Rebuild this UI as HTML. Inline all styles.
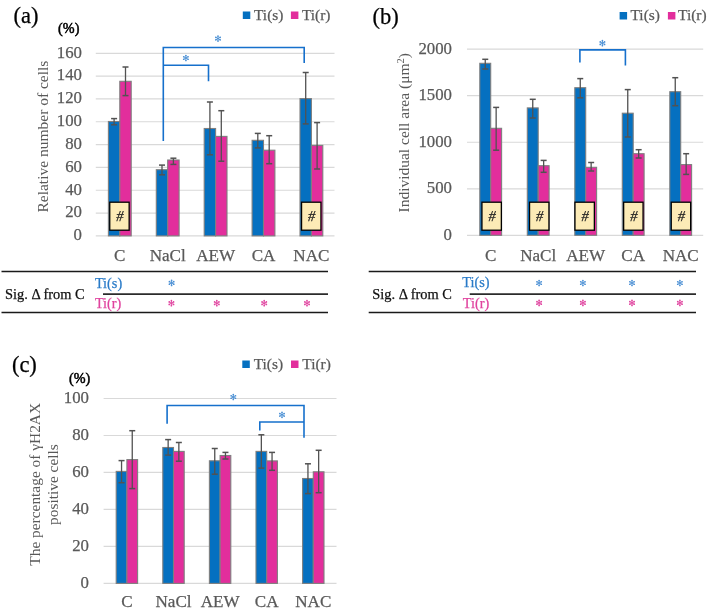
<!DOCTYPE html><html><head><meta charset="utf-8"><style>html,body{margin:0;padding:0;background:#fff;width:708px;height:610px;overflow:hidden}svg{display:block;filter:blur(0.4px)}text{font-family:"Liberation Serif",serif}</style></head><body>
<svg width="708" height="610" viewBox="0 0 708 610">
<text x="13.6" y="23.2" font-size="22.5" fill="#000" stroke="#000" stroke-width="0.25" text-anchor="start" >(a)</text>
<text x="58.1" y="32.7" font-size="14.2" fill="#000" stroke="#000" stroke-width="0.5">(%)</text>
<rect x="242.8" y="11.5" width="7.5" height="7.5" fill="#0570c0"/>
<text x="254" y="19.6" font-size="15.4" fill="#595959" stroke="#595959" stroke-width="0.25" text-anchor="start" >Ti(s)</text>
<rect x="290.9" y="11.5" width="7.5" height="7.5" fill="#e22e9c"/>
<text x="301.9" y="19.6" font-size="15.4" fill="#595959" stroke="#595959" stroke-width="0.25" text-anchor="start" >Ti(r)</text>
<line x1="95.8" y1="235.9" x2="334.5" y2="235.9" stroke="#d9d9d9" stroke-width="1.2"/>
<text x="82" y="240.2" font-size="16.8" fill="#595959" stroke="#595959" stroke-width="0.25" text-anchor="end" >0</text>
<line x1="95.8" y1="213.07" x2="334.5" y2="213.07" stroke="#d9d9d9" stroke-width="1.2"/>
<text x="82" y="217.38" font-size="16.8" fill="#595959" stroke="#595959" stroke-width="0.25" text-anchor="end" >20</text>
<line x1="95.8" y1="190.25" x2="334.5" y2="190.25" stroke="#d9d9d9" stroke-width="1.2"/>
<text x="82" y="194.55" font-size="16.8" fill="#595959" stroke="#595959" stroke-width="0.25" text-anchor="end" >40</text>
<line x1="95.8" y1="167.43" x2="334.5" y2="167.43" stroke="#d9d9d9" stroke-width="1.2"/>
<text x="82" y="171.73" font-size="16.8" fill="#595959" stroke="#595959" stroke-width="0.25" text-anchor="end" >60</text>
<line x1="95.8" y1="144.6" x2="334.5" y2="144.6" stroke="#d9d9d9" stroke-width="1.2"/>
<text x="82" y="148.9" font-size="16.8" fill="#595959" stroke="#595959" stroke-width="0.25" text-anchor="end" >80</text>
<line x1="95.8" y1="121.77" x2="334.5" y2="121.77" stroke="#d9d9d9" stroke-width="1.2"/>
<text x="82" y="126.07" font-size="16.8" fill="#595959" stroke="#595959" stroke-width="0.25" text-anchor="end" >100</text>
<line x1="95.8" y1="98.95" x2="334.5" y2="98.95" stroke="#d9d9d9" stroke-width="1.2"/>
<text x="82" y="103.25" font-size="16.8" fill="#595959" stroke="#595959" stroke-width="0.25" text-anchor="end" >120</text>
<line x1="95.8" y1="76.12" x2="334.5" y2="76.12" stroke="#d9d9d9" stroke-width="1.2"/>
<text x="82" y="80.42" font-size="16.8" fill="#595959" stroke="#595959" stroke-width="0.25" text-anchor="end" >140</text>
<line x1="95.8" y1="53.3" x2="334.5" y2="53.3" stroke="#d9d9d9" stroke-width="1.2"/>
<text x="82" y="57.6" font-size="16.8" fill="#595959" stroke="#595959" stroke-width="0.25" text-anchor="end" >160</text>
<rect x="108.40" y="121.50" width="11.40" height="114.40" fill="#0570c0" stroke="#7f7f7f" stroke-width="1.1"/>
<rect x="119.80" y="81.30" width="11.40" height="154.60" fill="#e22e9c" stroke="#7f7f7f" stroke-width="1.1"/>
<rect x="156.30" y="169.70" width="11.40" height="66.20" fill="#0570c0" stroke="#7f7f7f" stroke-width="1.1"/>
<rect x="167.70" y="160.00" width="11.40" height="75.90" fill="#e22e9c" stroke="#7f7f7f" stroke-width="1.1"/>
<rect x="204.20" y="128.50" width="11.40" height="107.40" fill="#0570c0" stroke="#7f7f7f" stroke-width="1.1"/>
<rect x="215.60" y="136.40" width="11.40" height="99.50" fill="#e22e9c" stroke="#7f7f7f" stroke-width="1.1"/>
<rect x="252.10" y="140.30" width="11.40" height="95.60" fill="#0570c0" stroke="#7f7f7f" stroke-width="1.1"/>
<rect x="263.50" y="150.20" width="11.40" height="85.70" fill="#e22e9c" stroke="#7f7f7f" stroke-width="1.1"/>
<rect x="300.00" y="98.60" width="11.40" height="137.30" fill="#0570c0" stroke="#7f7f7f" stroke-width="1.1"/>
<rect x="311.40" y="145.40" width="11.40" height="90.50" fill="#e22e9c" stroke="#7f7f7f" stroke-width="1.1"/>
<line x1="114.1" y1="118.6" x2="114.1" y2="124.8" stroke="#525252" stroke-width="1.3"/>
<line x1="111.1" y1="118.6" x2="117.1" y2="118.6" stroke="#525252" stroke-width="1.5"/>
<line x1="111.1" y1="124.8" x2="117.1" y2="124.8" stroke="#525252" stroke-width="1.5"/>
<line x1="125.5" y1="67" x2="125.5" y2="95.6" stroke="#525252" stroke-width="1.3"/>
<line x1="122.5" y1="67" x2="128.5" y2="67" stroke="#525252" stroke-width="1.5"/>
<line x1="122.5" y1="95.6" x2="128.5" y2="95.6" stroke="#525252" stroke-width="1.5"/>
<line x1="162.0" y1="165.1" x2="162.0" y2="174.8" stroke="#525252" stroke-width="1.3"/>
<line x1="159.0" y1="165.1" x2="165.0" y2="165.1" stroke="#525252" stroke-width="1.5"/>
<line x1="159.0" y1="174.8" x2="165.0" y2="174.8" stroke="#525252" stroke-width="1.5"/>
<line x1="173.39999999999998" y1="158.2" x2="173.39999999999998" y2="164.4" stroke="#525252" stroke-width="1.3"/>
<line x1="170.39999999999998" y1="158.2" x2="176.39999999999998" y2="158.2" stroke="#525252" stroke-width="1.5"/>
<line x1="170.39999999999998" y1="164.4" x2="176.39999999999998" y2="164.4" stroke="#525252" stroke-width="1.5"/>
<line x1="209.9" y1="102" x2="209.9" y2="154.8" stroke="#525252" stroke-width="1.3"/>
<line x1="206.9" y1="102" x2="212.9" y2="102" stroke="#525252" stroke-width="1.5"/>
<line x1="206.9" y1="154.8" x2="212.9" y2="154.8" stroke="#525252" stroke-width="1.5"/>
<line x1="221.29999999999998" y1="110.7" x2="221.29999999999998" y2="161.2" stroke="#525252" stroke-width="1.3"/>
<line x1="218.29999999999998" y1="110.7" x2="224.29999999999998" y2="110.7" stroke="#525252" stroke-width="1.5"/>
<line x1="218.29999999999998" y1="161.2" x2="224.29999999999998" y2="161.2" stroke="#525252" stroke-width="1.5"/>
<line x1="257.8" y1="133.4" x2="257.8" y2="147.9" stroke="#525252" stroke-width="1.3"/>
<line x1="254.8" y1="133.4" x2="260.8" y2="133.4" stroke="#525252" stroke-width="1.5"/>
<line x1="254.8" y1="147.9" x2="260.8" y2="147.9" stroke="#525252" stroke-width="1.5"/>
<line x1="269.2" y1="135.7" x2="269.2" y2="163.7" stroke="#525252" stroke-width="1.3"/>
<line x1="266.2" y1="135.7" x2="272.2" y2="135.7" stroke="#525252" stroke-width="1.5"/>
<line x1="266.2" y1="163.7" x2="272.2" y2="163.7" stroke="#525252" stroke-width="1.5"/>
<line x1="305.7" y1="72.5" x2="305.7" y2="123.9" stroke="#525252" stroke-width="1.3"/>
<line x1="302.7" y1="72.5" x2="308.7" y2="72.5" stroke="#525252" stroke-width="1.5"/>
<line x1="302.7" y1="123.9" x2="308.7" y2="123.9" stroke="#525252" stroke-width="1.5"/>
<line x1="317.09999999999997" y1="122.6" x2="317.09999999999997" y2="169" stroke="#525252" stroke-width="1.3"/>
<line x1="314.09999999999997" y1="122.6" x2="320.09999999999997" y2="122.6" stroke="#525252" stroke-width="1.5"/>
<line x1="314.09999999999997" y1="169" x2="320.09999999999997" y2="169" stroke="#525252" stroke-width="1.5"/>
<rect x="109.75" y="202.20" width="19.4" height="28.00" fill="#fcebb6" stroke="#000" stroke-width="1.3"/>
<text x="119.9" y="221.2" font-size="14.5" fill="#222" stroke="#222" stroke-width="0.25" text-anchor="middle" font-style="italic">#</text>
<rect x="301.55" y="202.20" width="19.4" height="28.00" fill="#fcebb6" stroke="#000" stroke-width="1.3"/>
<text x="311.7" y="221.2" font-size="14.5" fill="#222" stroke="#222" stroke-width="0.25" text-anchor="middle" font-style="italic">#</text>
<text x="119.8" y="261.1" font-size="17.1" fill="#595959" stroke="#595959" stroke-width="0.25" text-anchor="middle" >C</text>
<text x="167.7" y="261.1" font-size="17.1" fill="#595959" stroke="#595959" stroke-width="0.25" text-anchor="middle" >NaCl</text>
<text x="215.6" y="261.1" font-size="17.1" fill="#595959" stroke="#595959" stroke-width="0.25" text-anchor="middle" >AEW</text>
<text x="263.5" y="261.1" font-size="17.1" fill="#595959" stroke="#595959" stroke-width="0.25" text-anchor="middle" >CA</text>
<text x="311.4" y="261.1" font-size="17.1" fill="#595959" stroke="#595959" stroke-width="0.25" text-anchor="middle" >NAC</text>
<text transform="translate(48.2,136.6) rotate(-90)" font-size="15.5" fill="#595959" text-anchor="middle">Relative number of cells</text>
<polyline points="163.3,141 163.3,47.5 304.2,47.5 304.2,63.1" fill="none" stroke="#1670cc" stroke-width="1.6"/>
<polyline points="163.3,65.3 208.5,65.3 208.5,81.3" fill="none" stroke="#1670cc" stroke-width="1.6"/>
<line x1="218.0" y1="36.1" x2="218.0" y2="41.1" stroke="#4a8fd4" stroke-width="0.9"/>
<line x1="215.83" y1="37.35" x2="220.17" y2="39.85" stroke="#4a8fd4" stroke-width="0.9"/>
<line x1="220.17" y1="37.35" x2="215.83" y2="39.85" stroke="#4a8fd4" stroke-width="0.9"/>
<circle cx="220.17" cy="39.85" r="0.85" fill="#4a8fd4"/>
<circle cx="218.00" cy="41.10" r="0.85" fill="#4a8fd4"/>
<circle cx="215.83" cy="39.85" r="0.85" fill="#4a8fd4"/>
<circle cx="215.83" cy="37.35" r="0.85" fill="#4a8fd4"/>
<circle cx="218.00" cy="36.10" r="0.85" fill="#4a8fd4"/>
<circle cx="220.17" cy="37.35" r="0.85" fill="#4a8fd4"/>
<line x1="185.9" y1="55.5" x2="185.9" y2="60.5" stroke="#4a8fd4" stroke-width="0.9"/>
<line x1="183.73" y1="56.75" x2="188.07" y2="59.25" stroke="#4a8fd4" stroke-width="0.9"/>
<line x1="188.07" y1="56.75" x2="183.73" y2="59.25" stroke="#4a8fd4" stroke-width="0.9"/>
<circle cx="188.07" cy="59.25" r="0.85" fill="#4a8fd4"/>
<circle cx="185.90" cy="60.50" r="0.85" fill="#4a8fd4"/>
<circle cx="183.73" cy="59.25" r="0.85" fill="#4a8fd4"/>
<circle cx="183.73" cy="56.75" r="0.85" fill="#4a8fd4"/>
<circle cx="185.90" cy="55.50" r="0.85" fill="#4a8fd4"/>
<circle cx="188.07" cy="56.75" r="0.85" fill="#4a8fd4"/>
<line x1="1.5" y1="271.6" x2="328" y2="271.6" stroke="#1a1a1a" stroke-width="1.5"/>
<line x1="103" y1="294.1" x2="328" y2="294.1" stroke="#2b2b2b" stroke-width="1.9"/>
<line x1="1.5" y1="312.6" x2="328" y2="312.6" stroke="#1a1a1a" stroke-width="1.5"/>
<text x="5" y="299" font-size="14.4" fill="#111" stroke="#111" stroke-width="0.25" text-anchor="start" >Sig. Δ from C</text>
<text x="94.9" y="287.6" font-size="14.3" fill="#2a7bc8" stroke="#2a7bc8" stroke-width="0.25" text-anchor="start" >Ti(s)</text>
<text x="94.9" y="307.5" font-size="14.3" fill="#e0449f" stroke="#e0449f" stroke-width="0.25" text-anchor="start" >Ti(r)</text>
<line x1="171.6" y1="280.4" x2="171.6" y2="285.4" stroke="#4a8fd4" stroke-width="0.9"/>
<line x1="169.43" y1="281.65" x2="173.77" y2="284.15" stroke="#4a8fd4" stroke-width="0.9"/>
<line x1="173.77" y1="281.65" x2="169.43" y2="284.15" stroke="#4a8fd4" stroke-width="0.9"/>
<circle cx="173.77" cy="284.15" r="0.85" fill="#4a8fd4"/>
<circle cx="171.60" cy="285.40" r="0.85" fill="#4a8fd4"/>
<circle cx="169.43" cy="284.15" r="0.85" fill="#4a8fd4"/>
<circle cx="169.43" cy="281.65" r="0.85" fill="#4a8fd4"/>
<circle cx="171.60" cy="280.40" r="0.85" fill="#4a8fd4"/>
<circle cx="173.77" cy="281.65" r="0.85" fill="#4a8fd4"/>
<line x1="171.4" y1="300.7" x2="171.4" y2="305.7" stroke="#e0449f" stroke-width="0.9"/>
<line x1="169.23" y1="301.95" x2="173.57" y2="304.45" stroke="#e0449f" stroke-width="0.9"/>
<line x1="173.57" y1="301.95" x2="169.23" y2="304.45" stroke="#e0449f" stroke-width="0.9"/>
<circle cx="173.57" cy="304.45" r="0.85" fill="#e0449f"/>
<circle cx="171.40" cy="305.70" r="0.85" fill="#e0449f"/>
<circle cx="169.23" cy="304.45" r="0.85" fill="#e0449f"/>
<circle cx="169.23" cy="301.95" r="0.85" fill="#e0449f"/>
<circle cx="171.40" cy="300.70" r="0.85" fill="#e0449f"/>
<circle cx="173.57" cy="301.95" r="0.85" fill="#e0449f"/>
<line x1="216.8" y1="300.7" x2="216.8" y2="305.7" stroke="#e0449f" stroke-width="0.9"/>
<line x1="214.63" y1="301.95" x2="218.97" y2="304.45" stroke="#e0449f" stroke-width="0.9"/>
<line x1="218.97" y1="301.95" x2="214.63" y2="304.45" stroke="#e0449f" stroke-width="0.9"/>
<circle cx="218.97" cy="304.45" r="0.85" fill="#e0449f"/>
<circle cx="216.80" cy="305.70" r="0.85" fill="#e0449f"/>
<circle cx="214.63" cy="304.45" r="0.85" fill="#e0449f"/>
<circle cx="214.63" cy="301.95" r="0.85" fill="#e0449f"/>
<circle cx="216.80" cy="300.70" r="0.85" fill="#e0449f"/>
<circle cx="218.97" cy="301.95" r="0.85" fill="#e0449f"/>
<line x1="264.2" y1="300.7" x2="264.2" y2="305.7" stroke="#e0449f" stroke-width="0.9"/>
<line x1="262.03" y1="301.95" x2="266.37" y2="304.45" stroke="#e0449f" stroke-width="0.9"/>
<line x1="266.37" y1="301.95" x2="262.03" y2="304.45" stroke="#e0449f" stroke-width="0.9"/>
<circle cx="266.37" cy="304.45" r="0.85" fill="#e0449f"/>
<circle cx="264.20" cy="305.70" r="0.85" fill="#e0449f"/>
<circle cx="262.03" cy="304.45" r="0.85" fill="#e0449f"/>
<circle cx="262.03" cy="301.95" r="0.85" fill="#e0449f"/>
<circle cx="264.20" cy="300.70" r="0.85" fill="#e0449f"/>
<circle cx="266.37" cy="301.95" r="0.85" fill="#e0449f"/>
<line x1="307.0" y1="300.7" x2="307.0" y2="305.7" stroke="#e0449f" stroke-width="0.9"/>
<line x1="304.83" y1="301.95" x2="309.17" y2="304.45" stroke="#e0449f" stroke-width="0.9"/>
<line x1="309.17" y1="301.95" x2="304.83" y2="304.45" stroke="#e0449f" stroke-width="0.9"/>
<circle cx="309.17" cy="304.45" r="0.85" fill="#e0449f"/>
<circle cx="307.00" cy="305.70" r="0.85" fill="#e0449f"/>
<circle cx="304.83" cy="304.45" r="0.85" fill="#e0449f"/>
<circle cx="304.83" cy="301.95" r="0.85" fill="#e0449f"/>
<circle cx="307.00" cy="300.70" r="0.85" fill="#e0449f"/>
<circle cx="309.17" cy="301.95" r="0.85" fill="#e0449f"/>
<text x="372.6" y="24" font-size="22.5" fill="#000" stroke="#000" stroke-width="0.25" text-anchor="start" >(b)</text>
<rect x="619.6" y="12" width="7.5" height="7.5" fill="#0570c0"/>
<text x="630.5" y="19.8" font-size="15.4" fill="#595959" stroke="#595959" stroke-width="0.25" text-anchor="start" >Ti(s)</text>
<rect x="667.9" y="12" width="7.5" height="7.5" fill="#e22e9c"/>
<text x="678.1" y="19.8" font-size="15.4" fill="#595959" stroke="#595959" stroke-width="0.25" text-anchor="start" >Ti(r)</text>
<line x1="467" y1="235.3" x2="703.2" y2="235.3" stroke="#d9d9d9" stroke-width="1.2"/>
<text x="452" y="239.6" font-size="16.8" fill="#595959" stroke="#595959" stroke-width="0.25" text-anchor="end" >0</text>
<line x1="467" y1="188.78" x2="703.2" y2="188.78" stroke="#d9d9d9" stroke-width="1.2"/>
<text x="452" y="193.08" font-size="16.8" fill="#595959" stroke="#595959" stroke-width="0.25" text-anchor="end" >500</text>
<line x1="467" y1="142.25" x2="703.2" y2="142.25" stroke="#d9d9d9" stroke-width="1.2"/>
<text x="452" y="146.55" font-size="16.8" fill="#595959" stroke="#595959" stroke-width="0.25" text-anchor="end" >1000</text>
<line x1="467" y1="95.72" x2="703.2" y2="95.72" stroke="#d9d9d9" stroke-width="1.2"/>
<text x="452" y="100.02" font-size="16.8" fill="#595959" stroke="#595959" stroke-width="0.25" text-anchor="end" >1500</text>
<line x1="467" y1="49.2" x2="703.2" y2="49.2" stroke="#d9d9d9" stroke-width="1.2"/>
<text x="452" y="53.5" font-size="16.8" fill="#595959" stroke="#595959" stroke-width="0.25" text-anchor="end" >2000</text>
<rect x="479.80" y="63.30" width="10.90" height="172.00" fill="#0570c0" stroke="#7f7f7f" stroke-width="1.1"/>
<rect x="490.70" y="128.30" width="10.90" height="107.00" fill="#e22e9c" stroke="#7f7f7f" stroke-width="1.1"/>
<rect x="527.30" y="107.90" width="10.90" height="127.40" fill="#0570c0" stroke="#7f7f7f" stroke-width="1.1"/>
<rect x="538.20" y="165.70" width="10.90" height="69.60" fill="#e22e9c" stroke="#7f7f7f" stroke-width="1.1"/>
<rect x="574.80" y="87.70" width="10.90" height="147.60" fill="#0570c0" stroke="#7f7f7f" stroke-width="1.1"/>
<rect x="585.70" y="167.30" width="10.90" height="68.00" fill="#e22e9c" stroke="#7f7f7f" stroke-width="1.1"/>
<rect x="622.30" y="113.20" width="10.90" height="122.10" fill="#0570c0" stroke="#7f7f7f" stroke-width="1.1"/>
<rect x="633.20" y="153.70" width="10.90" height="81.60" fill="#e22e9c" stroke="#7f7f7f" stroke-width="1.1"/>
<rect x="669.80" y="91.70" width="10.90" height="143.60" fill="#0570c0" stroke="#7f7f7f" stroke-width="1.1"/>
<rect x="680.70" y="164.60" width="10.90" height="70.70" fill="#e22e9c" stroke="#7f7f7f" stroke-width="1.1"/>
<line x1="485.25" y1="59.3" x2="485.25" y2="69" stroke="#525252" stroke-width="1.3"/>
<line x1="482.25" y1="59.3" x2="488.25" y2="59.3" stroke="#525252" stroke-width="1.5"/>
<line x1="482.25" y1="69" x2="488.25" y2="69" stroke="#525252" stroke-width="1.5"/>
<line x1="496.15" y1="107.4" x2="496.15" y2="150.2" stroke="#525252" stroke-width="1.3"/>
<line x1="493.15" y1="107.4" x2="499.15" y2="107.4" stroke="#525252" stroke-width="1.5"/>
<line x1="493.15" y1="150.2" x2="499.15" y2="150.2" stroke="#525252" stroke-width="1.5"/>
<line x1="532.75" y1="99.3" x2="532.75" y2="118" stroke="#525252" stroke-width="1.3"/>
<line x1="529.75" y1="99.3" x2="535.75" y2="99.3" stroke="#525252" stroke-width="1.5"/>
<line x1="529.75" y1="118" x2="535.75" y2="118" stroke="#525252" stroke-width="1.5"/>
<line x1="543.6500000000001" y1="160.4" x2="543.6500000000001" y2="172.3" stroke="#525252" stroke-width="1.3"/>
<line x1="540.6500000000001" y1="160.4" x2="546.6500000000001" y2="160.4" stroke="#525252" stroke-width="1.5"/>
<line x1="540.6500000000001" y1="172.3" x2="546.6500000000001" y2="172.3" stroke="#525252" stroke-width="1.5"/>
<line x1="580.25" y1="78.6" x2="580.25" y2="97.8" stroke="#525252" stroke-width="1.3"/>
<line x1="577.25" y1="78.6" x2="583.25" y2="78.6" stroke="#525252" stroke-width="1.5"/>
<line x1="577.25" y1="97.8" x2="583.25" y2="97.8" stroke="#525252" stroke-width="1.5"/>
<line x1="591.1500000000001" y1="162.5" x2="591.1500000000001" y2="171" stroke="#525252" stroke-width="1.3"/>
<line x1="588.1500000000001" y1="162.5" x2="594.1500000000001" y2="162.5" stroke="#525252" stroke-width="1.5"/>
<line x1="588.1500000000001" y1="171" x2="594.1500000000001" y2="171" stroke="#525252" stroke-width="1.5"/>
<line x1="627.75" y1="89.6" x2="627.75" y2="137" stroke="#525252" stroke-width="1.3"/>
<line x1="624.75" y1="89.6" x2="630.75" y2="89.6" stroke="#525252" stroke-width="1.5"/>
<line x1="624.75" y1="137" x2="630.75" y2="137" stroke="#525252" stroke-width="1.5"/>
<line x1="638.6500000000001" y1="149.7" x2="638.6500000000001" y2="158" stroke="#525252" stroke-width="1.3"/>
<line x1="635.6500000000001" y1="149.7" x2="641.6500000000001" y2="149.7" stroke="#525252" stroke-width="1.5"/>
<line x1="635.6500000000001" y1="158" x2="641.6500000000001" y2="158" stroke="#525252" stroke-width="1.5"/>
<line x1="675.25" y1="77.7" x2="675.25" y2="105.7" stroke="#525252" stroke-width="1.3"/>
<line x1="672.25" y1="77.7" x2="678.25" y2="77.7" stroke="#525252" stroke-width="1.5"/>
<line x1="672.25" y1="105.7" x2="678.25" y2="105.7" stroke="#525252" stroke-width="1.5"/>
<line x1="686.1500000000001" y1="153.7" x2="686.1500000000001" y2="174.4" stroke="#525252" stroke-width="1.3"/>
<line x1="683.1500000000001" y1="153.7" x2="689.1500000000001" y2="153.7" stroke="#525252" stroke-width="1.5"/>
<line x1="683.1500000000001" y1="174.4" x2="689.1500000000001" y2="174.4" stroke="#525252" stroke-width="1.5"/>
<rect x="481.95" y="202.20" width="19.4" height="28.00" fill="#fcebb6" stroke="#000" stroke-width="1.3"/>
<text x="492.1" y="221.2" font-size="14.5" fill="#222" stroke="#222" stroke-width="0.25" text-anchor="middle" font-style="italic">#</text>
<rect x="529.55" y="202.20" width="19.4" height="28.00" fill="#fcebb6" stroke="#000" stroke-width="1.3"/>
<text x="539.7" y="221.2" font-size="14.5" fill="#222" stroke="#222" stroke-width="0.25" text-anchor="middle" font-style="italic">#</text>
<rect x="574.95" y="202.20" width="19.4" height="28.00" fill="#fcebb6" stroke="#000" stroke-width="1.3"/>
<text x="585.1" y="221.2" font-size="14.5" fill="#222" stroke="#222" stroke-width="0.25" text-anchor="middle" font-style="italic">#</text>
<rect x="623.65" y="202.20" width="19.4" height="28.00" fill="#fcebb6" stroke="#000" stroke-width="1.3"/>
<text x="633.8" y="221.2" font-size="14.5" fill="#222" stroke="#222" stroke-width="0.25" text-anchor="middle" font-style="italic">#</text>
<rect x="671.25" y="202.20" width="19.4" height="28.00" fill="#fcebb6" stroke="#000" stroke-width="1.3"/>
<text x="681.4" y="221.2" font-size="14.5" fill="#222" stroke="#222" stroke-width="0.25" text-anchor="middle" font-style="italic">#</text>
<text x="490.7" y="260.5" font-size="17.1" fill="#595959" stroke="#595959" stroke-width="0.25" text-anchor="middle" >C</text>
<text x="538.2" y="260.5" font-size="17.1" fill="#595959" stroke="#595959" stroke-width="0.25" text-anchor="middle" >NaCl</text>
<text x="585.7" y="260.5" font-size="17.1" fill="#595959" stroke="#595959" stroke-width="0.25" text-anchor="middle" >AEW</text>
<text x="633.2" y="260.5" font-size="17.1" fill="#595959" stroke="#595959" stroke-width="0.25" text-anchor="middle" >CA</text>
<text x="680.7" y="260.5" font-size="17.1" fill="#595959" stroke="#595959" stroke-width="0.25" text-anchor="middle" >NAC</text>
<text transform="translate(409,132.8) rotate(-90)" font-size="15.5" fill="#595959" text-anchor="middle">Individual cell area (μm<tspan font-size="10.5" dy="-4.6">2</tspan><tspan dy="4.6">)</tspan></text>
<polyline points="579.9,62.4 579.9,49.9 625.4,49.9 625.4,65.5" fill="none" stroke="#1670cc" stroke-width="1.6"/>
<line x1="602.4" y1="40.7" x2="602.4" y2="45.7" stroke="#4a8fd4" stroke-width="0.9"/>
<line x1="600.23" y1="41.95" x2="604.57" y2="44.45" stroke="#4a8fd4" stroke-width="0.9"/>
<line x1="604.57" y1="41.95" x2="600.23" y2="44.45" stroke="#4a8fd4" stroke-width="0.9"/>
<circle cx="604.57" cy="44.45" r="0.85" fill="#4a8fd4"/>
<circle cx="602.40" cy="45.70" r="0.85" fill="#4a8fd4"/>
<circle cx="600.23" cy="44.45" r="0.85" fill="#4a8fd4"/>
<circle cx="600.23" cy="41.95" r="0.85" fill="#4a8fd4"/>
<circle cx="602.40" cy="40.70" r="0.85" fill="#4a8fd4"/>
<circle cx="604.57" cy="41.95" r="0.85" fill="#4a8fd4"/>
<line x1="368.7" y1="271.4" x2="696" y2="271.4" stroke="#1a1a1a" stroke-width="1.5"/>
<line x1="469.7" y1="294.1" x2="696" y2="294.1" stroke="#2b2b2b" stroke-width="1.9"/>
<line x1="368.7" y1="312.6" x2="696" y2="312.6" stroke="#1a1a1a" stroke-width="1.5"/>
<text x="372.3" y="299.4" font-size="14.4" fill="#111" stroke="#111" stroke-width="0.25" text-anchor="start" >Sig. Δ from C</text>
<text x="462.3" y="287.4" font-size="14.3" fill="#2a7bc8" stroke="#2a7bc8" stroke-width="0.25" text-anchor="start" >Ti(s)</text>
<text x="462.8" y="307.6" font-size="14.3" fill="#e0449f" stroke="#e0449f" stroke-width="0.25" text-anchor="start" >Ti(r)</text>
<line x1="539.1" y1="280.5" x2="539.1" y2="285.5" stroke="#4a8fd4" stroke-width="0.9"/>
<line x1="536.93" y1="281.75" x2="541.27" y2="284.25" stroke="#4a8fd4" stroke-width="0.9"/>
<line x1="541.27" y1="281.75" x2="536.93" y2="284.25" stroke="#4a8fd4" stroke-width="0.9"/>
<circle cx="541.27" cy="284.25" r="0.85" fill="#4a8fd4"/>
<circle cx="539.10" cy="285.50" r="0.85" fill="#4a8fd4"/>
<circle cx="536.93" cy="284.25" r="0.85" fill="#4a8fd4"/>
<circle cx="536.93" cy="281.75" r="0.85" fill="#4a8fd4"/>
<circle cx="539.10" cy="280.50" r="0.85" fill="#4a8fd4"/>
<circle cx="541.27" cy="281.75" r="0.85" fill="#4a8fd4"/>
<line x1="539.1" y1="300.4" x2="539.1" y2="305.4" stroke="#e0449f" stroke-width="0.9"/>
<line x1="536.93" y1="301.65" x2="541.27" y2="304.15" stroke="#e0449f" stroke-width="0.9"/>
<line x1="541.27" y1="301.65" x2="536.93" y2="304.15" stroke="#e0449f" stroke-width="0.9"/>
<circle cx="541.27" cy="304.15" r="0.85" fill="#e0449f"/>
<circle cx="539.10" cy="305.40" r="0.85" fill="#e0449f"/>
<circle cx="536.93" cy="304.15" r="0.85" fill="#e0449f"/>
<circle cx="536.93" cy="301.65" r="0.85" fill="#e0449f"/>
<circle cx="539.10" cy="300.40" r="0.85" fill="#e0449f"/>
<circle cx="541.27" cy="301.65" r="0.85" fill="#e0449f"/>
<line x1="582.9" y1="280.5" x2="582.9" y2="285.5" stroke="#4a8fd4" stroke-width="0.9"/>
<line x1="580.73" y1="281.75" x2="585.07" y2="284.25" stroke="#4a8fd4" stroke-width="0.9"/>
<line x1="585.07" y1="281.75" x2="580.73" y2="284.25" stroke="#4a8fd4" stroke-width="0.9"/>
<circle cx="585.07" cy="284.25" r="0.85" fill="#4a8fd4"/>
<circle cx="582.90" cy="285.50" r="0.85" fill="#4a8fd4"/>
<circle cx="580.73" cy="284.25" r="0.85" fill="#4a8fd4"/>
<circle cx="580.73" cy="281.75" r="0.85" fill="#4a8fd4"/>
<circle cx="582.90" cy="280.50" r="0.85" fill="#4a8fd4"/>
<circle cx="585.07" cy="281.75" r="0.85" fill="#4a8fd4"/>
<line x1="582.9" y1="300.4" x2="582.9" y2="305.4" stroke="#e0449f" stroke-width="0.9"/>
<line x1="580.73" y1="301.65" x2="585.07" y2="304.15" stroke="#e0449f" stroke-width="0.9"/>
<line x1="585.07" y1="301.65" x2="580.73" y2="304.15" stroke="#e0449f" stroke-width="0.9"/>
<circle cx="585.07" cy="304.15" r="0.85" fill="#e0449f"/>
<circle cx="582.90" cy="305.40" r="0.85" fill="#e0449f"/>
<circle cx="580.73" cy="304.15" r="0.85" fill="#e0449f"/>
<circle cx="580.73" cy="301.65" r="0.85" fill="#e0449f"/>
<circle cx="582.90" cy="300.40" r="0.85" fill="#e0449f"/>
<circle cx="585.07" cy="301.65" r="0.85" fill="#e0449f"/>
<line x1="632.0" y1="280.5" x2="632.0" y2="285.5" stroke="#4a8fd4" stroke-width="0.9"/>
<line x1="629.83" y1="281.75" x2="634.17" y2="284.25" stroke="#4a8fd4" stroke-width="0.9"/>
<line x1="634.17" y1="281.75" x2="629.83" y2="284.25" stroke="#4a8fd4" stroke-width="0.9"/>
<circle cx="634.17" cy="284.25" r="0.85" fill="#4a8fd4"/>
<circle cx="632.00" cy="285.50" r="0.85" fill="#4a8fd4"/>
<circle cx="629.83" cy="284.25" r="0.85" fill="#4a8fd4"/>
<circle cx="629.83" cy="281.75" r="0.85" fill="#4a8fd4"/>
<circle cx="632.00" cy="280.50" r="0.85" fill="#4a8fd4"/>
<circle cx="634.17" cy="281.75" r="0.85" fill="#4a8fd4"/>
<line x1="632.0" y1="300.4" x2="632.0" y2="305.4" stroke="#e0449f" stroke-width="0.9"/>
<line x1="629.83" y1="301.65" x2="634.17" y2="304.15" stroke="#e0449f" stroke-width="0.9"/>
<line x1="634.17" y1="301.65" x2="629.83" y2="304.15" stroke="#e0449f" stroke-width="0.9"/>
<circle cx="634.17" cy="304.15" r="0.85" fill="#e0449f"/>
<circle cx="632.00" cy="305.40" r="0.85" fill="#e0449f"/>
<circle cx="629.83" cy="304.15" r="0.85" fill="#e0449f"/>
<circle cx="629.83" cy="301.65" r="0.85" fill="#e0449f"/>
<circle cx="632.00" cy="300.40" r="0.85" fill="#e0449f"/>
<circle cx="634.17" cy="301.65" r="0.85" fill="#e0449f"/>
<line x1="679.9" y1="280.5" x2="679.9" y2="285.5" stroke="#4a8fd4" stroke-width="0.9"/>
<line x1="677.73" y1="281.75" x2="682.07" y2="284.25" stroke="#4a8fd4" stroke-width="0.9"/>
<line x1="682.07" y1="281.75" x2="677.73" y2="284.25" stroke="#4a8fd4" stroke-width="0.9"/>
<circle cx="682.07" cy="284.25" r="0.85" fill="#4a8fd4"/>
<circle cx="679.90" cy="285.50" r="0.85" fill="#4a8fd4"/>
<circle cx="677.73" cy="284.25" r="0.85" fill="#4a8fd4"/>
<circle cx="677.73" cy="281.75" r="0.85" fill="#4a8fd4"/>
<circle cx="679.90" cy="280.50" r="0.85" fill="#4a8fd4"/>
<circle cx="682.07" cy="281.75" r="0.85" fill="#4a8fd4"/>
<line x1="679.9" y1="300.4" x2="679.9" y2="305.4" stroke="#e0449f" stroke-width="0.9"/>
<line x1="677.73" y1="301.65" x2="682.07" y2="304.15" stroke="#e0449f" stroke-width="0.9"/>
<line x1="682.07" y1="301.65" x2="677.73" y2="304.15" stroke="#e0449f" stroke-width="0.9"/>
<circle cx="682.07" cy="304.15" r="0.85" fill="#e0449f"/>
<circle cx="679.90" cy="305.40" r="0.85" fill="#e0449f"/>
<circle cx="677.73" cy="304.15" r="0.85" fill="#e0449f"/>
<circle cx="677.73" cy="301.65" r="0.85" fill="#e0449f"/>
<circle cx="679.90" cy="300.40" r="0.85" fill="#e0449f"/>
<circle cx="682.07" cy="301.65" r="0.85" fill="#e0449f"/>
<text x="11.9" y="372.4" font-size="22.5" fill="#000" stroke="#000" stroke-width="0.25" text-anchor="start" >(c)</text>
<text x="69" y="383.1" font-size="14.2" fill="#000" stroke="#000" stroke-width="0.5">(%)</text>
<rect x="242.3" y="360.5" width="7.5" height="7.5" fill="#0570c0"/>
<text x="253.7" y="368.8" font-size="15.4" fill="#595959" stroke="#595959" stroke-width="0.25" text-anchor="start" >Ti(s)</text>
<rect x="291" y="360.5" width="7.5" height="7.5" fill="#e22e9c"/>
<text x="302.3" y="368.8" font-size="15.4" fill="#595959" stroke="#595959" stroke-width="0.25" text-anchor="start" >Ti(r)</text>
<line x1="103.6" y1="583.4" x2="336.5" y2="583.4" stroke="#d9d9d9" stroke-width="1.2"/>
<text x="89" y="587.7" font-size="16.8" fill="#595959" stroke="#595959" stroke-width="0.25" text-anchor="end" >0</text>
<line x1="103.6" y1="546.42" x2="336.5" y2="546.42" stroke="#d9d9d9" stroke-width="1.2"/>
<text x="89" y="550.72" font-size="16.8" fill="#595959" stroke="#595959" stroke-width="0.25" text-anchor="end" >20</text>
<line x1="103.6" y1="509.44" x2="336.5" y2="509.44" stroke="#d9d9d9" stroke-width="1.2"/>
<text x="89" y="513.74" font-size="16.8" fill="#595959" stroke="#595959" stroke-width="0.25" text-anchor="end" >40</text>
<line x1="103.6" y1="472.46" x2="336.5" y2="472.46" stroke="#d9d9d9" stroke-width="1.2"/>
<text x="89" y="476.76" font-size="16.8" fill="#595959" stroke="#595959" stroke-width="0.25" text-anchor="end" >60</text>
<line x1="103.6" y1="435.48" x2="336.5" y2="435.48" stroke="#d9d9d9" stroke-width="1.2"/>
<text x="89" y="439.78" font-size="16.8" fill="#595959" stroke="#595959" stroke-width="0.25" text-anchor="end" >80</text>
<line x1="103.6" y1="398.5" x2="336.5" y2="398.5" stroke="#d9d9d9" stroke-width="1.2"/>
<text x="89" y="402.8" font-size="16.8" fill="#595959" stroke="#595959" stroke-width="0.25" text-anchor="end" >100</text>
<rect x="116.20" y="471.40" width="10.70" height="112.00" fill="#0570c0" stroke="#7f7f7f" stroke-width="1.1"/>
<rect x="126.90" y="459.60" width="10.70" height="123.80" fill="#e22e9c" stroke="#7f7f7f" stroke-width="1.1"/>
<rect x="162.80" y="447.50" width="10.70" height="135.90" fill="#0570c0" stroke="#7f7f7f" stroke-width="1.1"/>
<rect x="173.50" y="451.40" width="10.70" height="132.00" fill="#e22e9c" stroke="#7f7f7f" stroke-width="1.1"/>
<rect x="209.40" y="460.80" width="10.70" height="122.60" fill="#0570c0" stroke="#7f7f7f" stroke-width="1.1"/>
<rect x="220.10" y="455.50" width="10.70" height="127.90" fill="#e22e9c" stroke="#7f7f7f" stroke-width="1.1"/>
<rect x="256.00" y="451.40" width="10.70" height="132.00" fill="#0570c0" stroke="#7f7f7f" stroke-width="1.1"/>
<rect x="266.70" y="460.90" width="10.70" height="122.50" fill="#e22e9c" stroke="#7f7f7f" stroke-width="1.1"/>
<rect x="302.60" y="478.50" width="10.70" height="104.90" fill="#0570c0" stroke="#7f7f7f" stroke-width="1.1"/>
<rect x="313.30" y="471.80" width="10.70" height="111.60" fill="#e22e9c" stroke="#7f7f7f" stroke-width="1.1"/>
<line x1="121.55000000000001" y1="460.6" x2="121.55000000000001" y2="482.7" stroke="#525252" stroke-width="1.3"/>
<line x1="118.55000000000001" y1="460.6" x2="124.55000000000001" y2="460.6" stroke="#525252" stroke-width="1.5"/>
<line x1="118.55000000000001" y1="482.7" x2="124.55000000000001" y2="482.7" stroke="#525252" stroke-width="1.5"/>
<line x1="132.25" y1="430.7" x2="132.25" y2="488.6" stroke="#525252" stroke-width="1.3"/>
<line x1="129.25" y1="430.7" x2="135.25" y2="430.7" stroke="#525252" stroke-width="1.5"/>
<line x1="129.25" y1="488.6" x2="135.25" y2="488.6" stroke="#525252" stroke-width="1.5"/>
<line x1="168.15" y1="439.6" x2="168.15" y2="455.1" stroke="#525252" stroke-width="1.3"/>
<line x1="165.15" y1="439.6" x2="171.15" y2="439.6" stroke="#525252" stroke-width="1.5"/>
<line x1="165.15" y1="455.1" x2="171.15" y2="455.1" stroke="#525252" stroke-width="1.5"/>
<line x1="178.85" y1="442.5" x2="178.85" y2="461.2" stroke="#525252" stroke-width="1.3"/>
<line x1="175.85" y1="442.5" x2="181.85" y2="442.5" stroke="#525252" stroke-width="1.5"/>
<line x1="175.85" y1="461.2" x2="181.85" y2="461.2" stroke="#525252" stroke-width="1.5"/>
<line x1="214.75000000000003" y1="448.5" x2="214.75000000000003" y2="474.2" stroke="#525252" stroke-width="1.3"/>
<line x1="211.75000000000003" y1="448.5" x2="217.75000000000003" y2="448.5" stroke="#525252" stroke-width="1.5"/>
<line x1="211.75000000000003" y1="474.2" x2="217.75000000000003" y2="474.2" stroke="#525252" stroke-width="1.5"/>
<line x1="225.45000000000002" y1="452.4" x2="225.45000000000002" y2="459" stroke="#525252" stroke-width="1.3"/>
<line x1="222.45000000000002" y1="452.4" x2="228.45000000000002" y2="452.4" stroke="#525252" stroke-width="1.5"/>
<line x1="222.45000000000002" y1="459" x2="228.45000000000002" y2="459" stroke="#525252" stroke-width="1.5"/>
<line x1="261.35" y1="434.8" x2="261.35" y2="468.1" stroke="#525252" stroke-width="1.3"/>
<line x1="258.35" y1="434.8" x2="264.35" y2="434.8" stroke="#525252" stroke-width="1.5"/>
<line x1="258.35" y1="468.1" x2="264.35" y2="468.1" stroke="#525252" stroke-width="1.5"/>
<line x1="272.05000000000007" y1="452.4" x2="272.05000000000007" y2="470.3" stroke="#525252" stroke-width="1.3"/>
<line x1="269.05000000000007" y1="452.4" x2="275.05000000000007" y2="452.4" stroke="#525252" stroke-width="1.5"/>
<line x1="269.05000000000007" y1="470.3" x2="275.05000000000007" y2="470.3" stroke="#525252" stroke-width="1.5"/>
<line x1="307.95" y1="463.8" x2="307.95" y2="493.6" stroke="#525252" stroke-width="1.3"/>
<line x1="304.95" y1="463.8" x2="310.95" y2="463.8" stroke="#525252" stroke-width="1.5"/>
<line x1="304.95" y1="493.6" x2="310.95" y2="493.6" stroke="#525252" stroke-width="1.5"/>
<line x1="318.65000000000003" y1="450.3" x2="318.65000000000003" y2="492.7" stroke="#525252" stroke-width="1.3"/>
<line x1="315.65000000000003" y1="450.3" x2="321.65000000000003" y2="450.3" stroke="#525252" stroke-width="1.5"/>
<line x1="315.65000000000003" y1="492.7" x2="321.65000000000003" y2="492.7" stroke="#525252" stroke-width="1.5"/>
<text x="126.9" y="607.2" font-size="17.1" fill="#595959" stroke="#595959" stroke-width="0.25" text-anchor="middle" >C</text>
<text x="173.5" y="607.2" font-size="17.1" fill="#595959" stroke="#595959" stroke-width="0.25" text-anchor="middle" >NaCl</text>
<text x="220.1" y="607.2" font-size="17.1" fill="#595959" stroke="#595959" stroke-width="0.25" text-anchor="middle" >AEW</text>
<text x="266.7" y="607.2" font-size="17.1" fill="#595959" stroke="#595959" stroke-width="0.25" text-anchor="middle" >CA</text>
<text x="313.3" y="607.2" font-size="17.1" fill="#595959" stroke="#595959" stroke-width="0.25" text-anchor="middle" >NAC</text>
<text transform="translate(40.1,484.3) rotate(-90)" font-size="15.4" fill="#595959" text-anchor="middle">The percentage of γH2AX</text>
<text transform="translate(58.4,484.6) rotate(-90)" font-size="15.4" fill="#595959" text-anchor="middle">positive cells</text>
<polyline points="167.1,423.7 167.1,405.5 304,405.5 304,437.8" fill="none" stroke="#1670cc" stroke-width="1.6"/>
<polyline points="259.8,430.5 259.8,422 304,422" fill="none" stroke="#1670cc" stroke-width="1.6"/>
<line x1="233.3" y1="394.5" x2="233.3" y2="399.5" stroke="#4a8fd4" stroke-width="0.9"/>
<line x1="231.13" y1="395.75" x2="235.47" y2="398.25" stroke="#4a8fd4" stroke-width="0.9"/>
<line x1="235.47" y1="395.75" x2="231.13" y2="398.25" stroke="#4a8fd4" stroke-width="0.9"/>
<circle cx="235.47" cy="398.25" r="0.85" fill="#4a8fd4"/>
<circle cx="233.30" cy="399.50" r="0.85" fill="#4a8fd4"/>
<circle cx="231.13" cy="398.25" r="0.85" fill="#4a8fd4"/>
<circle cx="231.13" cy="395.75" r="0.85" fill="#4a8fd4"/>
<circle cx="233.30" cy="394.50" r="0.85" fill="#4a8fd4"/>
<circle cx="235.47" cy="395.75" r="0.85" fill="#4a8fd4"/>
<line x1="282.0" y1="412.3" x2="282.0" y2="417.3" stroke="#4a8fd4" stroke-width="0.9"/>
<line x1="279.83" y1="413.55" x2="284.17" y2="416.05" stroke="#4a8fd4" stroke-width="0.9"/>
<line x1="284.17" y1="413.55" x2="279.83" y2="416.05" stroke="#4a8fd4" stroke-width="0.9"/>
<circle cx="284.17" cy="416.05" r="0.85" fill="#4a8fd4"/>
<circle cx="282.00" cy="417.30" r="0.85" fill="#4a8fd4"/>
<circle cx="279.83" cy="416.05" r="0.85" fill="#4a8fd4"/>
<circle cx="279.83" cy="413.55" r="0.85" fill="#4a8fd4"/>
<circle cx="282.00" cy="412.30" r="0.85" fill="#4a8fd4"/>
<circle cx="284.17" cy="413.55" r="0.85" fill="#4a8fd4"/>
</svg></body></html>
